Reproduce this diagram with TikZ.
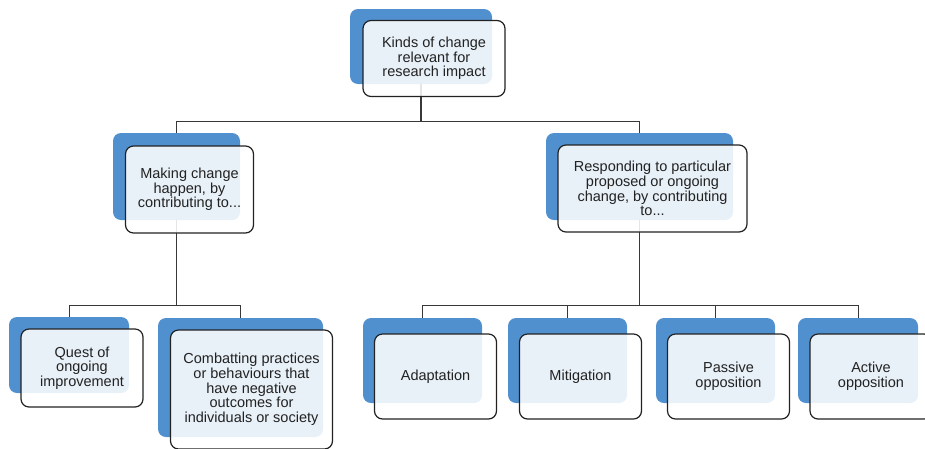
\documentclass[tikz,border=0pt]{standalone}
\usepackage{fontspec}
\setmainfont{Liberation Sans}
\usetikzlibrary{calc,backgrounds}
\definecolor{boxblue}{RGB}{80,144,207}
\definecolor{inkgray}{RGB}{34,34,34}

\begin{document}
\begin{tikzpicture}[x=1pt,y=-1pt,
    back/.style={fill=boxblue,rounded corners=8pt,inner sep=0pt,outer sep=0pt},
    front/.style={draw=inkgray,line width=1.2pt,fill=white,fill opacity=.87,text opacity=1,
        rounded corners=8pt,inner sep=0pt,outer sep=0pt,align=center,text=inkgray,
        font=\fontsize{14.5}{14.7}\selectfont},
    size/.style 2 args={minimum width=#1,minimum height=#2},
    conn/.style={draw=inkgray!90,line width=0.9pt}]
\useasboundingbox (0,0) rectangle (925,448);
% top level
\node[back,size={142pt}{75pt}] (kinds-b) at (421,46.5) {};
\node[front,size={142pt}{76pt}] (kinds) at ($(kinds-b)+(13,12)$) {Kinds of change\\relevant for\\research impact};
% second level
\node[back,size={127pt}{87pt}] (making-b) at (176.5,176.5) {};
\node[front,size={128pt}{87pt}] (making) at ($(making-b)+(13,13)$) {Making change\\happen, by\\contributing to...};
\node[back,size={187pt}{87pt}] (respond-b) at (639.5,176.5) {};
\node[front,size={189pt}{87pt}] (respond) at ($(respond-b)+(13,12)$) {Responding to particular\\proposed or ongoing\\change, by contributing\\to...};
% third level, left
\node[back,size={120pt}{76pt}] (quest-b) at (69,355) {};
\node[front,size={122pt}{78pt}] (quest) at ($(quest-b)+(13,13)$) {Quest of\\ongoing\\improvement};
\node[back,size={165pt}{119pt}] (combat-b) at (240.5,377.5) {};
\node[front,size={162pt}{119pt}] (combat) at ($(combat-b)+(11,12)$) {Combatting practices\\or behaviours that\\have negative\\outcomes for\\individuals or society};
% third level, right
\node[back,size={119pt}{85pt}] (adapt-b) at (422.5,360.5) {};
\node[front,size={122pt}{85pt}] (adapt) at ($(adapt-b)+(13,16)$) {Adaptation};
\node[back,size={119pt}{85pt}] (mitig-b) at (567.5,360.5) {};
\node[front,size={122pt}{85pt}] (mitig) at ($(mitig-b)+(13,16)$) {Mitigation};
\node[back,size={119pt}{85pt}] (passive-b) at (715.5,360.5) {};
\node[front,size={122pt}{85pt}] (passive) at ($(passive-b)+(13,16)$) {Passive\\opposition};
\node[back,size={120pt}{85pt}] (active-b) at (858,360.5) {};
\node[front,size={122pt}{85pt}] (active) at ($(active-b)+(13,16)$) {Active\\opposition};
% connectors
\begin{scope}[on background layer]
\draw[conn,line width=1.3pt] (kinds-b.south) -- ++(0,37) coordinate (bus1);
\draw[conn] (bus1) -| (making-b.north) (bus1) -| (respond-b.north);
\draw[conn] (making-b.south) -- ++(0,85) coordinate (bus2);
\draw[conn] (bus2) -| (quest-b.north) (bus2) -| (combat-b.north);
\draw[conn] (respond-b.south) -- ++(0,85) coordinate (bus3);
\draw[conn] (bus3) -| (adapt-b.north) (bus3) -| (mitig-b.north)
    (bus3) -| (passive-b.north) (bus3) -| (active-b.north);
\end{scope}
\end{tikzpicture}
\end{document}
